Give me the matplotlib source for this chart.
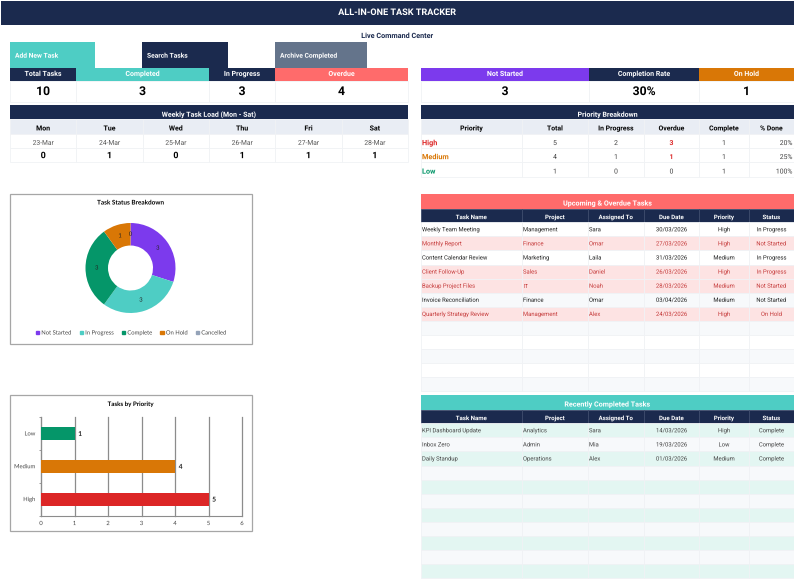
import math
import matplotlib
matplotlib.use("Agg")
import matplotlib.pyplot as plt
import matplotlib.patheffects as pe
from matplotlib.patches import Rectangle, Patch

plt.rcParams['font.family'] = ['Roboto', 'DejaVu Sans']
# small text jumps by a pixel when it goes through the bitmap route, paths keep it level
plt.rcParams['path.effects'] = [pe.Normal()]

NAVY = "#1b2a4e"
TEAL = "#4ecdc4"
CORAL = "#ff6b6b"
SLATE = "#64748b"
PURPLE = "#7c3aed"
ORANGE = "#d97706"
GREEN = "#059669"
RED = "#dc2626"
LIGHT = "#e9edf4"
LINE = "#f0f2f5"
FS = 1.07

# data
kpi_left = ["Total Tasks", "Completed", "In Progress", "Overdue"]
kpi_left_vals = ["10", "3", "3", "4"]
kpi_right = ["Not Started", "Completion Rate", "On Hold"]
kpi_right_vals = ["3", "30%", "1"]

days = ["Mon", "Tue", "Wed", "Thu", "Fri", "Sat"]
dates = ["23-Mar", "24-Mar", "25-Mar", "26-Mar", "27-Mar", "28-Mar"]
day_load = [0, 1, 0, 1, 1, 1]

prio_cols = ["Priority", "Total", "In Progress", "Overdue", "Complete", "% Done"]
prio_names = ["High", "Medium", "Low"]
prio_total = [5, 4, 1]
prio_progress = [2, 1, 0]
prio_overdue = [3, 1, 0]
prio_complete = [1, 1, 1]
prio_done = ["20%", "25%", "100%"]

task_cols = ["Task Name", "Project", "Assigned To", "Due Date", "Priority", "Status"]
upcoming = [
    ["Weekly Team Meeting", "Management", "Sara", "30/03/2026", "High", "In Progress"],
    ["Monthly Report", "Finance", "Omar", "27/03/2026", "High", "Not Started"],
    ["Content Calendar Review", "Marketing", "Laila", "31/03/2026", "Medium", "In Progress"],
    ["Client Follow-Up", "Sales", "Daniel", "26/03/2026", "High", "In Progress"],
    ["Backup Project Files", "IT", "Noah", "28/03/2026", "Medium", "Not Started"],
    ["Invoice Reconciliation", "Finance", "Omar", "03/04/2026", "Medium", "Not Started"],
    ["Quarterly Strategy Review", "Management", "Alex", "24/03/2026", "High", "On Hold"],
]
upcoming_late = [False, True, False, True, True, False, True]
recent = [
    ["KPI Dashboard Update", "Analytics", "Sara", "14/03/2026", "High", "Complete"],
    ["Inbox Zero", "Admin", "Mia", "19/03/2026", "Low", "Complete"],
    ["Daily Standup", "Operations", "Alex", "01/03/2026", "Medium", "Complete"],
]

status_names = ["Not Started", "In Progress", "Complete", "On Hold", "Cancelled"]
status_vals = [3, 3, 3, 1, 0]
status_cols = [PURPLE, TEAL, GREEN, ORANGE, "#94a3b8"]

bar_names = ["High", "Medium", "Low"]
bar_vals = [5, 4, 1]
bar_cols = [RED, ORANGE, GREEN]

W, H = 794, 579
fig = plt.figure(figsize=(W / 100, H / 100), dpi=100, facecolor="white")
bg = fig.add_axes([0, 0, 1, 1])
bg.set_xlim(0, W)
bg.set_ylim(H, 0)
bg.axis("off")


def box(x0, y0, x1, y1, color, edge="none", lw=0):
    bg.add_patch(Rectangle((x0, y0), x1 - x0, y1 - y0, facecolor=color, edgecolor=edge, linewidth=lw))


def cell(x0, y0, x1, y1, color, txt="", tc="black", size=4.6, bold=False, ha="center", edge=None, dy=0):
    box(x0, y0, x1, y1, color, edge or "none", 0.6 if edge else 0)
    if ha == "center":
        tx_ = (x0 + x1) / 2
    elif ha == "left":
        tx_ = x0 + 1
    else:
        tx_ = x1 - 1.5
    fs = size * FS
    t = bg.text(tx_, (y0 + y1) / 2 + dy + 0.49 * fs, txt, color=tc, fontsize=fs, ha=ha, va="baseline",
                fontweight="bold" if bold else "normal")
    # only straight edges, as a path this gets snapped and the T vanishes
    if txt == "IT":
        t.set_path_effects([])


# title and buttons
box(1, 1, 794, 25, NAVY)
bg.text(397, 12.5, "ALL-IN-ONE TASK TRACKER", color="white", fontsize=6.55, fontweight="bold", ha="center", va="center")
bg.text(397, 36, "Live Command Center", color=NAVY, fontsize=5.2, fontweight="bold", ha="center", va="center")
for x0, x1, col, name in [(10, 95, TEAL, "Add New Task"), (142, 228, NAVY, "Search Tasks"), (275, 367, SLATE, "Archive Completed")]:
    box(x0, 42, x1, 68, col)
    bg.text(x0 + 5, 57.7, name, color="white", fontsize=4.8, fontweight="bold", va="baseline")

# KPI rows
left_x = [10, 76, 209, 275, 408]
left_col = [NAVY, TEAL, NAVY, CORAL]
for i, name in enumerate(kpi_left):
    cell(left_x[i], 68, left_x[i + 1], 80.5, left_col[i], name, "white", 4.7, True, dy=-0.8)
    cell(left_x[i], 81, left_x[i + 1], 101.5, "white", kpi_left_vals[i], "black", 8.2, True, edge=LINE, dy=-0.5)
right_x = [421, 589, 699, 794]
right_col = [PURPLE, NAVY, ORANGE]
for i, name in enumerate(kpi_right):
    cell(right_x[i], 68, right_x[i + 1], 80.5, right_col[i], name, "white", 4.7, True, dy=-0.8)
    cell(right_x[i], 81, right_x[i + 1], 101.5, "white", kpi_right_vals[i], "black", 8.2, True, edge=LINE, dy=-0.5)

# weekly load
cell(10, 105, 408, 119, NAVY, "Weekly Task Load (Mon - Sat)", "white", 4.7, True, dy=2.3)
wk_w = (408 - 10) / 6
for i, d in enumerate(days):
    x0, x1 = 10 + i * wk_w, 10 + (i + 1) * wk_w
    cell(x0, 119, x1, 134, LIGHT, d, "black", 4.7, True, edge=LINE, dy=1.5)
    cell(x0, 134, x1, 148, "#ffffff", dates[i], "#555555", 4.5, edge=LINE, dy=1.5)
    cell(x0, 148, x1, 162, "#ffffff", str(day_load[i]), "black", 6, True, edge=LINE)

# priority table
tx = [421, 522, 588, 644, 699, 749, 794]
cell(421, 105, 794, 119, NAVY, "Priority Breakdown", "white", 4.7, True, dy=2.3)
for i, c in enumerate(prio_cols):
    cell(tx[i], 119, tx[i + 1], 134, LIGHT, c, "black", 4.6, True, edge=LINE, dy=1.5)
row_y = [134, 148, 162, 177]
name_cols = [RED, ORANGE, GREEN]
for r, name in enumerate(prio_names):
    y0, y1 = row_y[r], row_y[r + 1]
    cell(tx[0], y0, tx[1], y1, "white", name, name_cols[r], 4.9, True, "left", edge=LINE, dy=1.6)
    cell(tx[1], y0, tx[2], y1, "white", str(prio_total[r]), "#444444", edge=LINE, dy=1.6)
    cell(tx[2], y0, tx[3], y1, "white", str(prio_progress[r]), "#444444", edge=LINE, dy=1.6)
    if prio_overdue[r] > 0:
        cell(tx[3], y0, tx[4], y1, "white", str(prio_overdue[r]), RED, 4.6, True, edge=LINE, dy=1.6)
    else:
        cell(tx[3], y0, tx[4], y1, "white", str(prio_overdue[r]), "#444444", edge=LINE, dy=1.6)
    cell(tx[4], y0, tx[5], y1, "white", str(prio_complete[r]), "#444444", edge=LINE, dy=1.6)
    cell(tx[5], y0, tx[6], y1, "white", prio_done[r], "#444444", ha="right", edge=LINE, dy=1.6)


def task_table(top, head_col, title, rows, n_rows, fills, text_cols):
    row_h = 14.1
    cell(421, top, 794, top + 14.5, head_col, title, "white", 4.8, True, dy=1.8)
    y = top + 14.5
    for i, c in enumerate(task_cols):
        cell(tx[i], y, tx[i + 1], y + 13.7, NAVY, c, "white", 4.1, True, edge="#3c4a6b", dy=1.6)
    y += 13.7
    for r in range(n_rows):
        data = rows[r] if r < len(rows) else [""] * 6
        for i in range(6):
            ha = "left" if i < 3 else "center"
            cell(tx[i], y, tx[i + 1], y + row_h, fills[r], data[i], text_cols[r], 3.95, ha=ha, edge=LINE)
        y += row_h


up_fill = []
up_text = []
for r in range(12):
    if r < len(upcoming) and upcoming_late[r]:
        up_fill.append("#fde3e3")
        up_text.append("#c53a3a")
    else:
        up_fill.append("white" if r % 2 == 0 else "#f7f9fb")
        up_text.append("#222222")
task_table(194, CORAL, "Upcoming & Overdue Tasks", upcoming, 12, up_fill, up_text)

rec_fill = ["#e3f6f2" if r % 2 == 0 else "#f7f9fb" for r in range(11)]
rec_text = ["#444444"] * 11
task_table(395, TEAL, "Recently Completed Tasks", recent, 11, rec_fill, rec_text)

# chart frames
box(10, 193.5, 252, 343.5, "white", "#a6a6a6", 0.9)
box(10, 395, 252, 531, "white", "#a6a6a6", 0.9)


def px_axes(x0, y0, x1, y1):
    return fig.add_axes([x0 / W, 1 - y1 / H, (x1 - x0) / W, (y1 - y0) / H])


# donut
bg.text(130.5, 203, "Task Status Breakdown", fontsize=4.6, fontweight="bold", ha="center", va="center", family="Lato")
ax = px_axes(85.5, 223, 175.5, 313)
wedges, _ = ax.pie(status_vals, colors=status_cols, startangle=90, counterclock=False, radius=1,
                   wedgeprops=dict(width=0.5, linewidth=0))
ax.set_xlim(-1, 1)
ax.set_ylim(-1, 1)
total = sum(status_vals)
ang = 90.0
for v in status_vals:
    mid = ang - v / total * 180
    ax.text(0.75 * math.cos(math.radians(mid)), 0.75 * math.sin(math.radians(mid)), str(v),
            fontsize=4.2, ha="center", va="center", color="#222222", family="Lato")
    ang -= v / total * 360
bg.legend(handles=[Patch(color=c, label=n) for c, n in zip(status_cols, status_names)],
          loc="center", bbox_to_anchor=(131, 333), bbox_transform=bg.transData, ncol=5, frameon=False,
          prop={"family": "Lato", "size": 4.2}, handlelength=0.6, handleheight=0.6, handletextpad=0.35,
          columnspacing=1.37, borderpad=0, labelcolor="#444444")

# bars
bg.text(130.5, 404.5, "Tasks by Priority", fontsize=4.45, fontweight="bold", ha="center", va="center", family="Lato")
ax2 = px_axes(41, 417, 242, 515.5)
bars = ax2.barh(bar_names, bar_vals, color=bar_cols, height=0.4, zorder=3)
ax2.set_xlim(0, 6)
ax2.set_ylim(-0.5, 2.5)
ax2.patch.set_alpha(0)
ax2.xaxis.grid(True, color="#8c8c8c", linewidth=0.9, zorder=1)
for gl in ax2.get_xgridlines():
    gl.set_clip_on(False)
ax2.set_axisbelow(True)
for s in ["top", "right"]:
    ax2.spines[s].set_visible(False)
for s in ["left", "bottom"]:
    ax2.spines[s].set_color("#8c8c8c")
    ax2.spines[s].set_linewidth(0.8)
ax2.set_yticks([-0.5, 0.5, 1.5, 2.5], minor=True)
ax2.tick_params(axis="x", length=0, labelsize=4.2, labelcolor="#444444", pad=4)
ax2.tick_params(axis="y", which="major", length=0, labelsize=4.2, labelcolor="#444444", pad=4)
ax2.tick_params(axis="y", which="minor", length=1.5, width=0.6, color="#8c8c8c")
for lab in ax2.get_xticklabels() + ax2.get_yticklabels():
    lab.set_family("Lato")
for b, v in zip(bars, bar_vals):
    ax2.text(v + 0.11, b.get_y() + b.get_height() / 2, str(v), fontsize=4.8, fontweight="bold",
             va="center", family="Lato", color="#222222")

fig.savefig("out.png", dpi=100)
